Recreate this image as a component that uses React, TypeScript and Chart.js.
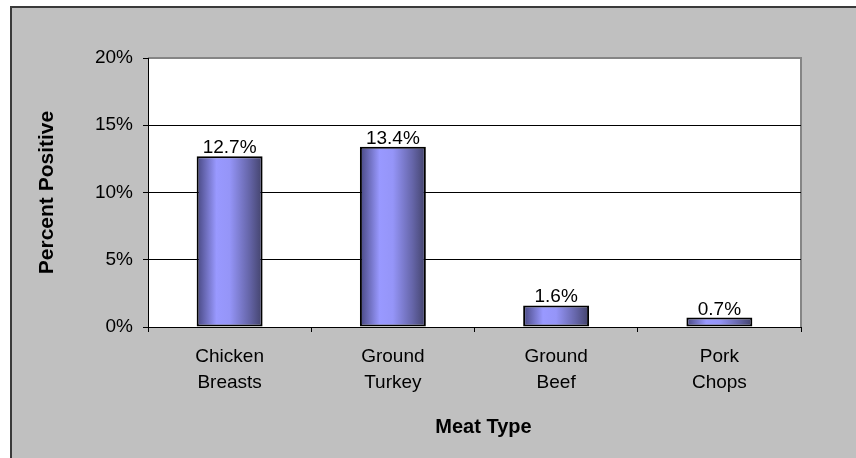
import React, { useEffect, useRef } from "react";
import { Chart, registerables } from "chart.js";

Chart.register(...registerables);

// Meat types on the x axis (two-line labels)
const categories: string[][] = [
  ["Chicken", "Breasts"],
  ["Ground", "Turkey"],
  ["Ground", "Beef"],
  ["Pork", "Chops"],
];

// Share of samples that tested positive, in percent
const percentPositive: number[] = [12.7, 13.4, 1.6, 0.7];

// Y axis tick values (percent)
const yTickValues: number[] = [0, 5, 10, 15, 20];

const xAxisTitle = "Meat Type";
const yAxisTitle = "Percent Positive";

const FONT = "'Liberation Sans', Arial, Helvetica, sans-serif";
const W = 856;
const H = 458;

// Grey panel, white plot area with grey top/right border
const framePlugin = {
  id: "frame",
  beforeDraw(chart: any) {
    const { ctx, chartArea } = chart;
    ctx.save();
    ctx.fillStyle = "#ffffff";
    ctx.fillRect(0, 0, W, H);
    ctx.fillStyle = "#c0c0c0";
    ctx.fillRect(10, 6, W - 10, H - 6);
    ctx.fillStyle = "#3a3a3a";
    ctx.fillRect(10, 6, W - 10, 2);
    ctx.fillRect(10, 6, 2, H - 6);
    const { left, top, right, bottom } = chartArea;
    ctx.fillStyle = "#ffffff";
    ctx.fillRect(left, top, right - left, bottom - top);
    ctx.strokeStyle = "#858585";
    ctx.lineWidth = 2;
    ctx.beginPath();
    ctx.moveTo(left, top);
    ctx.lineTo(right, top);
    ctx.lineTo(right, bottom);
    ctx.stroke();
    ctx.restore();
  },
};

// Value labels above each bar
const valueLabelPlugin = {
  id: "valueLabels",
  afterDatasetsDraw(chart: any) {
    const { ctx } = chart;
    const meta = chart.getDatasetMeta(0);
    ctx.save();
    ctx.font = `19px ${FONT}`;
    ctx.fillStyle = "#000";
    ctx.textAlign = "center";
    ctx.textBaseline = "alphabetic";
    meta.data.forEach((bar: any, i: number) => {
      const v = percentPositive[i];
      ctx.fillText(`${v.toFixed(1)}%`, bar.x, bar.y - 3);
    });
    ctx.restore();
  },
};

// X axis title
const xTitlePlugin = {
  id: "xTitle",
  afterDraw(chart: any) {
    const { ctx, chartArea } = chart;
    ctx.save();
    ctx.font = `bold 20px ${FONT}`;
    ctx.fillStyle = "#000";
    ctx.textAlign = "center";
    ctx.textBaseline = "middle";
    ctx.fillText(xAxisTitle, (chartArea.left + chartArea.right) / 2 + 9, 427);
    ctx.restore();
  },
};

function barGradient(context: any) {
  const chart = context.chart;
  const area = chart.chartArea;
  if (!area) return "#9999ff";
  const xScale = chart.scales.x;
  const cx = xScale.getPixelForValue(context.dataIndex);
  const catW = (area.right - area.left) / categories.length;
  const bw = catW * 0.404;
  const g = chart.ctx.createLinearGradient(cx - bw / 2, 0, cx + bw / 2, 0);
  g.addColorStop(0, "#474780");
  g.addColorStop(0.3, "#9999ff");
  g.addColorStop(0.5, "#9595f8");
  g.addColorStop(0.8, "#6565a8");
  g.addColorStop(1, "#42426a");
  return g;
}

export default function App() {
  const canvasRef = useRef<HTMLCanvasElement | null>(null);

  useEffect(() => {
    const canvas = canvasRef.current;
    if (!canvas) return;
    const chart = new Chart(canvas, {
      type: "bar",
      data: {
        labels: categories,
        datasets: [
          {
            data: percentPositive,
            backgroundColor: barGradient,
            borderColor: "#000",
            borderWidth: 2,
            borderSkipped: false,
            categoryPercentage: 1,
            barPercentage: 0.404,
          },
        ],
      },
      options: {
        responsive: false,
        animation: false,
        devicePixelRatio: 1,
        layout: { padding: { left: 12, top: 58, right: 55, bottom: 0 } },
        plugins: {
          legend: { display: false },
          tooltip: { enabled: false },
          title: { display: false },
        },
        scales: {
          x: {
            offset: true,
            grid: {
              offset: true,
              drawOnChartArea: false,
              drawTicks: true,
              tickLength: 5,
              tickColor: "#000",
            },
            border: { color: "#000", width: 1 },
            ticks: {
              color: "#000",
              font: { family: FONT, size: 19, lineHeight: 1.35 },
              padding: 12,
              maxRotation: 0,
              autoSkip: false,
            },
            afterFit(scale: any) {
              scale.height = 131;
            },
          },
          y: {
            min: 0,
            max: 20,
            afterBuildTicks(scale: any) {
              scale.ticks = yTickValues.map((v) => ({ value: v }));
            },
            grid: {
              color: (c: any) => (c.tick && c.tick.value === 20 ? "#858585" : "#000"),
              lineWidth: 1,
              tickLength: 5,
              tickColor: "#000",
            },
            border: { color: "#000", width: 1 },
            ticks: {
              color: "#000",
              font: { family: FONT, size: 19 },
              padding: 10,
              callback: (v: any) => `${v}%`,
            },
            title: {
              display: true,
              text: yAxisTitle,
              color: "#000",
              font: { family: FONT, size: 21, weight: "bold" },
              padding: { top: 23, bottom: 0 },
            },
            afterFit(scale: any) {
              scale.width = 136;
            },
          },
        },
      },
      plugins: [framePlugin, valueLabelPlugin, xTitlePlugin],
    });
    return () => chart.destroy();
  }, []);

  return (
    <div style={{ position: "absolute", left: 0, top: 0, width: W, height: H }}>
      <canvas ref={canvasRef} width={W} height={H} style={{ display: "block", width: W, height: H }} />
    </div>
  );
}
